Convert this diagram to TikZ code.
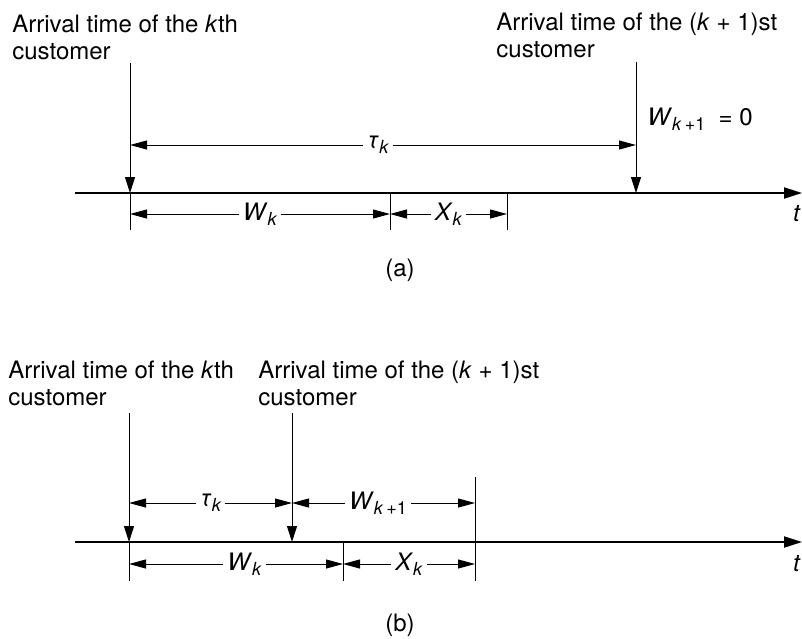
\documentclass[tikz,border=0pt]{standalone}
\usepackage{fontspec}
\setmainfont{TeX Gyre Heros}
\usepackage{tikz}
\usetikzlibrary{arrows.meta,positioning}
\newcommand{\isub}[2]{\textit{#1}\raisebox{-0.4ex}{\fontsize{9}{9}\selectfont #2}}
\tikzset{
  qttext/.style={
    font=\fontsize{12}{13.5}\selectfont, align=left,
    inner sep=0pt, anchor=north west
  },
  qtaxis/.style={-{Triangle[length=9pt,width=5.5pt]},line width=1pt},
  qtarrival/.style={-{Triangle[length=8pt,width=5pt]},line width=0.5pt},
  qtdim/.style={{Triangle[length=8.5pt,width=4.5pt]}-{Triangle[length=8.5pt,width=4.5pt]},line width=0.5pt},
  qttick/.style={line width=0.5pt},
  qtlabel/.style={font=\fontsize{12}{13.5}\selectfont,fill=white,inner sep=2pt},
  qtcaption/.style={font=\fontsize{12}{13.5}\selectfont,inner sep=1pt}
}

\begin{document}
\begin{tikzpicture}[x=0.5pt,y=-0.5pt]
  \useasboundingbox (0,0) rectangle (802,638);
  % (a) no waiting
  \node[qttext] (arrKa) at (12,15) {Arrival time of the \textit{k}th\\customer};
  \node[qttext] (arrNa) at (496,13) {Arrival time of the (\textit{k} + 1)st\\customer};
  \coordinate (ta0) at (75,193);
  \coordinate (ta1) at (802,193);
  \coordinate (kaTop) at (130,63);
  \coordinate (kaAx) at (130,193);
  \coordinate (kaBot) at (130,230);
  \coordinate (naTop) at (636,62);
  \coordinate (naAx) at (636,193);
  \coordinate (tauAl) at (130,145);
  \coordinate (tauAr) at (636,145);
  \coordinate (wAl) at (130,214);
  \coordinate (wAr) at (390,214);
  \coordinate (xAr) at (507,214);
  \coordinate (wAtop) at (390,193);
  \coordinate (wAbot) at (390,230);
  \coordinate (xAtop) at (507,193);
  \coordinate (xAbot) at (507,230);
  \draw[qtaxis] (ta0) -- (ta1);
  \node[qtcaption] (tA) at (797,214) {\textit{t}};
  \draw[qtarrival] (kaTop) -- (kaAx);
  \draw[qttick] (kaAx) -- (kaBot);
  \draw[qtarrival] (naTop) -- (naAx);
  \draw[qtdim] (tauAl) -- node[qtlabel,pos=0.49] {\isub{τ}{\textit{k}}} (tauAr);
  \node[qtcaption,anchor=base west] (wZero) at (645,125) {\isub{W}{\textit{k}\,+1}\ \ = 0};
  \draw[qttick] (wAtop) -- (wAbot);
  \draw[qttick] (xAtop) -- (xAbot);
  \draw[qtdim] (wAl) -- node[qtlabel] {\isub{W}{\textit{k}}} (wAr);
  \draw[qtdim] (wAr) -- node[qtlabel] {\isub{X}{\textit{k}}} (xAr);
  \node[qtcaption] (capA) at (400,270) {(a)};

  % (b) waiting
  \node[qttext] (arrKb) at (8,361) {Arrival time of the \textit{k}th\\customer};
  \node[qttext] (arrNb) at (258,361) {Arrival time of the (\textit{k} + 1)st\\customer};
  \coordinate (tb0) at (75,542);
  \coordinate (tb1) at (802,542);
  \coordinate (kbTop) at (129,413);
  \coordinate (kbAx) at (129,542);
  \coordinate (kbBot) at (129,581);
  \coordinate (nbTop) at (292,413);
  \coordinate (nbAx) at (292,542);
  \coordinate (tauBl) at (129,503);
  \coordinate (tauBr) at (292,503);
  \coordinate (wnBr) at (475,503);
  \coordinate (wBl) at (129,564);
  \coordinate (wBr) at (343,564);
  \coordinate (xBr) at (475,564);
  \coordinate (wBtop) at (343,542);
  \coordinate (wBbot) at (343,581);
  \coordinate (xBtop) at (475,477);
  \coordinate (xBbot) at (475,581);
  \draw[qtaxis] (tb0) -- (tb1);
  \node[qtcaption] (tB) at (797,564) {\textit{t}};
  \draw[qtarrival] (kbTop) -- (kbAx);
  \draw[qttick] (kbAx) -- (kbBot);
  \draw[qtarrival] (nbTop) -- (nbAx);
  \draw[qttick] (wBtop) -- (wBbot);
  \draw[qttick] (xBtop) -- (xBbot);
  \draw[qtdim] (tauBl) -- node[qtlabel] {\isub{τ}{\textit{k}}} (tauBr);
  \draw[qtdim] (tauBr) -- node[qtlabel,pos=0.47] {\isub{W}{\textit{k}\,+1}} (wnBr);
  \draw[qtdim] (wBl) -- node[qtlabel,pos=0.54] {\isub{W}{\textit{k}}} (wBr);
  \draw[qtdim] (wBr) -- node[qtlabel,pos=0.5] {\isub{X}{\textit{k}}} (xBr);
  \node[qtcaption] (capB) at (400,625) {(b)};
\end{tikzpicture}
\end{document}
